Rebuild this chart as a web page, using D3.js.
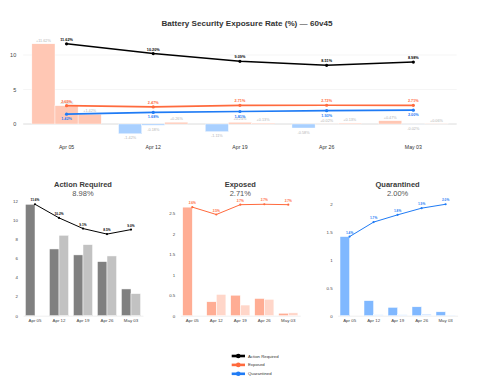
<!DOCTYPE html>
<html><head><meta charset="utf-8">
<script src="https://cdn.jsdelivr.net/npm/d3@7"></script>
<style>body{margin:0;background:#fff}svg{display:block;font-family:Arial,"Liberation Sans",Helvetica,sans-serif}</style>
</head><body><svg id="c" width="500" height="386"></svg>
<script>
const weeks = ["Apr 05","Apr 12","Apr 19","Apr 26","May 03"];
const seriesNames = ["Action Required","Exposed","Quarantined"];
const actionRequired = [11.62,10.20,9.09,8.51,8.98];
const exposed = [2.65,2.47,2.71,2.72,2.71];
const quarantined = [1.42,1.68,1.81,1.93,2.00];
const actionDelta = [11.62,-1.42,-1.11,-0.58,0.47];
const exposedDelta = [2.65,-0.18,0.24,0.02,-0.02];
const quarantinedDelta = [1.42,0.26,0.13,0.13,0.06];
const actionCurrent = [11.62,6.96,6.34,5.64,2.79];
const actionPrior = [null,8.39,7.41,6.23,2.30];
const exposedCurrent = [2.65,0.34,0.50,0.42,0.06];
const exposedPrior = [null,0.52,0.26,0.40,0.07];
const quarantinedCurrent = [1.42,0.27,0.15,0.16,0.07];
const quarantinedPrior = [null,0.02,0.02,0.03,0.01];
const topTicks = [0,5,10];
const chartTitle = "Battery Security Exposure Rate (%) \u2014 60v45";

const colors = {
  "Action Required": {line:"#000000", cur:"#808080", prior:"#c2c2c2"},
  "Exposed": {line:"#ff6a3d", cur:"#ffad94", prior:"#ffd6c9"},
  "Quarantined": {line:"#1f7bf5", cur:"#80b8ff", prior:"#cfe4ff"}
};
const posColor = "#ffc7b4", negColor = "#a9d0ff";

const lines = {"Action Required":actionRequired, "Exposed":exposed, "Quarantined":quarantined};
const deltas = {"Action Required":actionDelta, "Exposed":exposedDelta, "Quarantined":quarantinedDelta};
const currents = {"Action Required":actionCurrent, "Exposed":exposedCurrent, "Quarantined":quarantinedCurrent};
const priors = {"Action Required":actionPrior, "Exposed":exposedPrior, "Quarantined":quarantinedPrior};

const svg = d3.select("#c");

// ---------- Top chart ----------
const L = 23.2, R = 456.7;
const x0 = d3.scaleBand().domain(weeks).range([L,R]).paddingInner(0.2).paddingOuter(0.1);
const xs = d3.scaleBand().domain(seriesNames).range([0,x0.bandwidth()]);
const y = d3.scaleLinear().domain([-2.2,12.8]).range([139.18,35.68]);
const topG = svg.append("g");

topG.append("text").attr("x",(L+R)/2+7).attr("y",23).attr("text-anchor","middle")
  .attr("dominant-baseline","central").attr("font-size",8.1).attr("font-weight","bold")
  .attr("fill","#333").text(chartTitle);

topG.append("g").selectAll("line").data(topTicks).join("line")
  .attr("x1",L).attr("x2",R).attr("y1",d=>y(d)).attr("y2",d=>y(d))
  .attr("stroke",d=>d===0?"#dcdcdc":"#f2f2f2").attr("stroke-width",d=>d===0?1:0.8);

const yAx = topG.append("g").attr("transform",`translate(${L},0)`)
  .call(d3.axisLeft(y).tickValues(topTicks).tickSize(0).tickPadding(7));
yAx.select(".domain").remove();
yAx.selectAll("text").attr("font-size",5.5).attr("fill","#444");

const xAx = topG.append("g").attr("transform",`translate(0,${139.5})`)
  .call(d3.axisBottom(x0).tickSize(0).tickPadding(6));
xAx.select(".domain").remove();
xAx.selectAll("text").attr("font-size",5.2).attr("fill","#333");

const deltaData = [];
weeks.forEach((w,i)=>seriesNames.forEach(s=>deltaData.push({w,s,v:deltas[s][i]})));
const fmtD = v => (v>=0?"+":"") + v.toFixed(2) + "%";
topG.append("g").selectAll("rect").data(deltaData).join("rect")
  .attr("x",d=>x0(d.w)+xs(d.s)).attr("width",xs.bandwidth())
  .attr("y",d=>y(Math.max(0,d.v))).attr("height",d=>Math.abs(y(d.v)-y(0)))
  .attr("fill",d=>d.v>=0?posColor:negColor).attr("stroke","#fff").attr("stroke-width",0.4);
topG.append("g").selectAll("text").data(deltaData).join("text")
  .attr("x",d=>x0(d.w)+xs(d.s)+xs.bandwidth()/2)
  .attr("y",d=>d.v>=0?y(d.v)-2:y(d.v)+5.5)
  .attr("text-anchor","middle").attr("font-size",3.8).attr("fill","#b5b5b5").text(d=>fmtD(d.v));

const cx = w => x0(w)+x0.bandwidth()/2;
seriesNames.forEach(s=>{
  const vals = lines[s];
  const pts = weeks.map((w,i)=>({w,v:vals[i]}));
  const g = topG.append("g");
  g.append("path").datum(pts).attr("fill","none").attr("stroke",colors[s].line)
    .attr("stroke-width",s==="Action Required"?1.5:1.7)
    .attr("d",d3.line().x(d=>cx(d.w)).y(d=>y(d.v)));
  g.selectAll("circle").data(pts).join("circle").attr("cx",d=>cx(d.w)).attr("cy",d=>y(d.v))
    .attr("r",1.6).attr("fill",colors[s].line);
  const below = s==="Quarantined";
  g.selectAll("text").data(pts).join("text").attr("x",d=>cx(d.w))
    .attr("y",d=>below?y(d.v)+6:y(d.v)-3)
    .attr("text-anchor","middle").attr("font-size",3.8).attr("font-weight","bold")
    .attr("fill",colors[s].line).text(d=>d.v.toFixed(2)+"%");
});

// ---------- Small panels ----------
const panelStep = 157.3;
seriesNames.forEach((s,k)=>{
  const ox = k*panelStep;
  const g = svg.append("g");
  const px = d3.scaleBand().domain(weeks).range([ox+23,ox+143]).paddingInner(0.2).paddingOuter(0.1);
  const sub = d3.scaleBand().domain(["cur","prior"]).range([0,px.bandwidth()]);
  const vals = lines[s];
  const mx = d3.max(vals.concat(currents[s], priors[s].filter(v=>v!=null)));
  const py = d3.scaleLinear().domain([0,mx*1.05]).range([315.7,198.7]);

  g.append("text").attr("x",ox+83).attr("y",184).attr("text-anchor","middle")
    .attr("dominant-baseline","central").attr("font-size",7.5).attr("font-weight","bold")
    .attr("fill","#3a3a3a").text(s);
  g.append("text").attr("x",ox+83).attr("y",193.3).attr("text-anchor","middle")
    .attr("dominant-baseline","central").attr("font-size",7.5)
    .attr("fill","#555").text(vals[vals.length-1].toFixed(2)+"%");

  const ya = g.append("g").attr("transform",`translate(${ox+23},0)`)
    .call(d3.axisLeft(py).ticks(5).tickFormat(d3.format("~g")).tickSize(0).tickPadding(5));
  ya.select(".domain").remove();
  ya.selectAll("text").attr("font-size",4.4).attr("fill","#444");

  const xa = g.append("g").attr("transform",`translate(0,315.7)`)
    .call(d3.axisBottom(px).tickSize(0).tickPadding(3));
  xa.select(".domain").attr("stroke","#e6e6e6").attr("stroke-width",0.6);
  xa.selectAll("text").attr("font-size",4.4).attr("fill","#444");

  const bars = [];
  weeks.forEach((w,i)=>{
    bars.push({w,key:"cur",v:currents[s][i]});
    if (priors[s][i]!=null) bars.push({w,key:"prior",v:priors[s][i]});
  });
  g.append("g").selectAll("rect").data(bars).join("rect")
    .attr("x",d=>px(d.w)+sub(d.key)).attr("width",sub.bandwidth())
    .attr("y",d=>py(d.v)).attr("height",d=>py(0)-py(d.v))
    .attr("fill",d=>colors[s][d.key]).attr("stroke","#fff").attr("stroke-width",0.5);

  const pts = weeks.map((w,i)=>({w,v:vals[i]}));
  const pcx = w => px(w)+px.bandwidth()/2;
  g.append("path").datum(pts).attr("fill","none").attr("stroke",colors[s].line).attr("stroke-width",1)
    .attr("d",d3.line().x(d=>pcx(d.w)).y(d=>py(d.v)));
  g.selectAll("circle").data(pts).join("circle").attr("cx",d=>pcx(d.w)).attr("cy",d=>py(d.v))
    .attr("r",1.1).attr("fill",colors[s].line);
  g.selectAll("text.vl").data(pts).join("text").attr("class","vl").attr("x",d=>pcx(d.w)).attr("y",d=>py(d.v)-3)
    .attr("text-anchor","middle").attr("font-size",3.2).attr("font-weight","bold")
    .attr("fill",colors[s].line).text(d=>d.v.toFixed(1)+"%");
});

// ---------- Legend ----------
const lg = svg.append("g");
seriesNames.forEach((s,i)=>{
  const yy = 356 + i*8.9;
  lg.append("line").attr("x1",231.7).attr("x2",245).attr("y1",yy).attr("y2",yy)
    .attr("stroke",colors[s].line).attr("stroke-width",2.6);
  lg.append("circle").attr("cx",238.3).attr("cy",yy).attr("r",2.3).attr("fill",colors[s].line);
  lg.append("text").attr("x",248).attr("y",yy).attr("dominant-baseline","central")
    .attr("font-size",4.3).attr("fill","#333").text(s);
});
</script></body></html>
